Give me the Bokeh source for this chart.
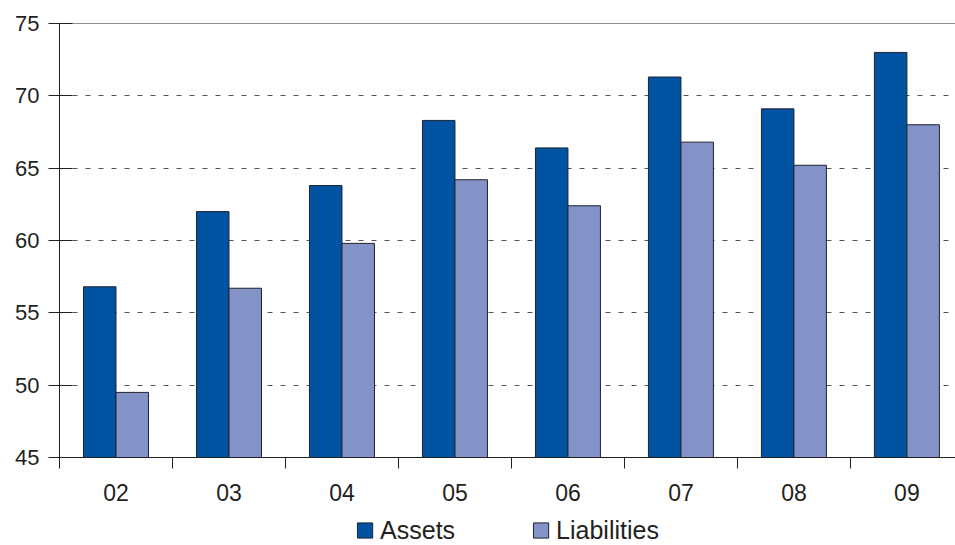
from bokeh.plotting import figure
from bokeh.layouts import column
from bokeh.models import FixedTicker, Span, Legend, LegendItem, ColumnDataSource
from bokeh.embed import file_html
from bokeh.resources import INLINE
import numpy as np

# ---- data ----
years = ["02", "03", "04", "05", "06", "07", "08", "09"]
assets = [56.8, 62.0, 63.8, 68.3, 66.4, 71.3, 69.1, 73.0]
liabilities = [49.5, 56.7, 59.8, 64.2, 62.4, 66.8, 65.2, 68.0]
y_ticks = [45, 50, 55, 60, 65, 70, 75]
grid_ticks = [50, 55, 60, 65, 70]

ASSET_C = "#0053A1"
LIAB_C = "#8393C8"
EDGE_C = "#1f2230"
TEXT_C = "#231f20"
FONT = "Liberation Sans"

idx = np.arange(len(years))
centers = idx + 0.5
bw = 0.2876

src = ColumnDataSource(dict(
    xa=centers - bw / 2, xl=centers + bw / 2, assets=assets, liab=liabilities,
))

p = figure(
    width=955, height=515,
    x_range=(0, 7.93), y_range=(45, 75),
    output_backend="svg", toolbar_location=None,
    min_border_left=59, min_border_top=23, min_border_right=0, min_border_bottom=58,
)
p.outline_line_color = None
p.background_fill_color = "white"
p.border_fill_color = "white"

p.vbar(x="xa", top="assets", bottom=45, width=bw, source=src,
       fill_color=ASSET_C, line_color=EDGE_C, line_width=1)
p.vbar(x="xl", top="liab", bottom=45, width=bw, source=src,
       fill_color=LIAB_C, line_color=EDGE_C, line_width=1)

# y axis
p.yaxis.ticker = FixedTicker(ticks=y_ticks)
p.yaxis.axis_line_color = TEXT_C
p.yaxis.major_tick_line_color = TEXT_C
p.yaxis.major_tick_out = 11
p.yaxis.major_tick_in = 13
p.yaxis.minor_tick_line_color = None
p.yaxis.major_label_standoff = 9
p.yaxis.major_label_text_font = FONT
p.yaxis.major_label_text_font_size = "22px"
p.yaxis.major_label_text_color = TEXT_C

# x axis: labels at centers, ticks at category boundaries
p.xaxis.ticker = FixedTicker(ticks=list(centers), minor_ticks=list(range(len(years) + 1)))
p.xaxis.major_label_overrides = {float(c): y for c, y in zip(centers, years)}
p.xaxis.axis_line_color = TEXT_C
p.xaxis.major_tick_out = 0
p.xaxis.major_tick_in = 0
p.xaxis.major_tick_line_color = None
p.xaxis.minor_tick_line_color = TEXT_C
p.xaxis.minor_tick_out = 11
p.xaxis.minor_tick_in = 0
p.xaxis.major_label_standoff = 15
p.xaxis.major_label_text_font = FONT
p.xaxis.major_label_text_font_size = "23px"
p.xaxis.major_label_text_color = TEXT_C

# grid
p.xgrid.grid_line_color = None
p.ygrid.ticker = FixedTicker(ticks=grid_ticks)
p.ygrid.grid_line_color = "#555555"
p.ygrid.grid_line_dash = "5 8"
p.ygrid.grid_line_width = 1

p.add_layout(Span(location=75, dimension="width", line_color=TEXT_C, line_width=1))

# ---- legend strip ----
lg = figure(
    width=955, height=30, x_range=(0, 1), y_range=(0, 1),
    output_backend="svg", toolbar_location=None,
    min_border_left=59, min_border_right=0, min_border_top=0, min_border_bottom=0,
)
lg.axis.visible = False
lg.grid.visible = False
lg.outline_line_color = None
# swatch renderers for the legend only (placed outside the strip's visible range)
swatch = ColumnDataSource(dict(x=[5.0], top=[5.0]))
la = lg.vbar(x="x", top="top", bottom=4.0, width=0.1, source=swatch,
             fill_color=ASSET_C, line_color=EDGE_C, line_width=1)
ll = lg.vbar(x="x", top="top", bottom=4.0, width=0.1, source=swatch,
             fill_color=LIAB_C, line_color=EDGE_C, line_width=1)

legend = Legend(
    items=[LegendItem(label="Assets", renderers=[la]),
           LegendItem(label="Liabilities", renderers=[ll])],
    orientation="horizontal",
    location="center",
    glyph_width=19, glyph_height=19,
    label_standoff=6, spacing=76,
    padding=0, margin=0,
    border_line_color=None, background_fill_alpha=0,
    label_text_font=FONT, label_text_font_size="25px", label_text_color=TEXT_C,
    label_height=19,
)
lg.add_layout(legend)

layout = column(p, lg, spacing=0)
open("out.html", "w").write(file_html(layout, INLINE))
